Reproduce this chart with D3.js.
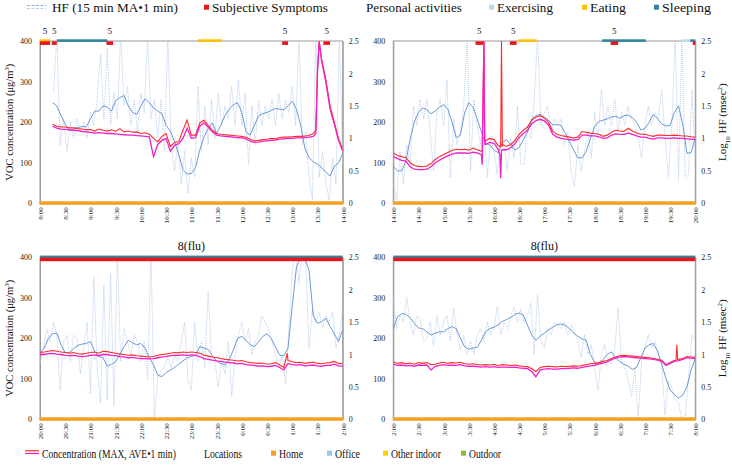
<!DOCTYPE html>
<html>
<head>
<meta charset="utf-8">
<script src="https://cdn.jsdelivr.net/npm/d3@7"></script>
<style>
body { margin: 0; background: #fff; }
svg, svg text { font-family: "Liberation Serif", "Times New Roman", "DejaVu Serif", serif; }
</style>
</head>
<body>
<svg id="chart" width="732" height="472"></svg>
<script>
// ---- data (minutes from panel start; conc every 5 min, raw HF every 4 min) ----
const startHours = [8, 14, 20, 2];
const ticksMin = d3.range(0, 361, 30);
const concTicks = [0, 100, 200, 300, 400];
const hfTicks = [0, 0.5, 1, 1.5, 2, 2.5];
const serif = '"Liberation Serif", "Times New Roman", "DejaVu Serif", serif';

const maxP1 = [null,null,null,195,190,188,188,186,186,184,183,181,
  182,178,183,180,178,181,177,184,176,178,175,176,
  172,174,170,160,152,165,172,140,150,152,180,205,
  168,168,198,205,192,180,172,170,169,168,167,166,
  165,163,158,154,155,157,158,160,159,162,163,163,
  164,165,165,166,167,172,330,355,305,240,200,160,
  132];
const aveP1 = [null,null,null,190,185,183,182,181,180,179,177,176,
  175,173,174,173,172,172,171,170,169,168,168,167,
  166,165,164,115,145,155,160,128,143,147,160,185,
  160,162,190,198,188,176,168,166,165,164,163,162,
  161,159,153,150,151,153,154,155,156,158,159,160,
  160,161,161,162,163,165,320,350,298,232,195,155,
  128];
const maxP2 = [124,118,115,113,100,93,91,90,92,98,108,115,
  120,125,130,133,132,133,131,136,132,128,155,160,
  157,142,140,140,145,155,170,180,188,205,212,216,
  210,200,178,170,167,165,163,161,163,177,175,173,
  172,170,165,168,175,180,178,177,185,178,173,170,
  170,167,165,168,168,167,167,168,167,166,166,164,
  163];
const aveP2 = [115,110,106,104,90,84,83,83,84,90,100,106,
  112,117,121,124,124,124,123,126,124,120,145,150,
  148,133,132,132,137,147,162,172,180,196,204,207,
  203,193,170,163,160,158,157,156,157,168,168,166,
  166,164,160,161,168,171,170,170,173,170,166,163,
  163,160,158,161,161,160,160,161,160,160,159,158,
  157];
const maxP3 = [165,166,168,170,168,166,165,163,165,162,161,163,
  165,166,163,168,167,165,163,161,160,158,159,157,
  156,155,154,155,158,160,161,163,165,164,166,165,
  166,165,163,158,156,154,152,150,148,147,146,144,
  145,142,140,139,138,139,136,137,140,134,128,145,
  142,140,141,138,140,141,138,137,139,140,143,138,
  137];
const aveP3 = [160,160,162,163,161,160,158,157,158,156,155,156,
  158,159,157,160,160,158,157,155,154,152,153,151,
  150,150,149,150,152,154,155,157,158,158,159,158,
  159,158,155,150,148,146,144,143,141,140,139,137,
  138,135,134,133,131,132,130,131,133,128,122,138,
  135,134,135,132,133,134,132,131,133,133,136,132,
  131];
const maxP4 = [142,138,140,137,139,136,140,138,140,135,136,139,
  141,138,140,139,141,137,136,137,135,134,135,134,
  136,133,135,134,133,134,132,131,130,125,118,128,
  130,131,130,129,131,130,131,132,131,133,135,137,
  138,140,143,145,150,154,157,158,157,156,155,154,
  153,152,150,148,146,135,140,145,148,150,155,154,
  153];
const aveP4 = [136,133,134,132,133,131,134,133,134,122,131,133,
  135,133,134,133,135,132,131,131,130,129,130,129,
  130,128,129,129,128,129,127,126,125,118,105,122,
  124,125,124,124,125,125,126,127,126,128,130,132,
  133,136,139,142,147,151,154,155,154,153,152,151,
  150,149,148,146,143,133,138,143,145,148,152,151,
  150];

// short spikes between the 5-minute samples [minute, value]
const maxSpikesP1 = [[328,180],[332,400]];
const aveSpikesP1 = [[328,172],[332,398]];
const maxSpikesP2 = [[106,130],[108,400],[109,150],[128,140],[129,400],[130.5,145]];
const aveSpikesP2 = [[106,95],[108,400],[109,145],[127,120],[128,62],[129,130]];
const maxSpikesP3 = [[294,163]];
const aveSpikesP3 = [];
const maxSpikesP4 = [[337,146],[338,184],[339,147]];
const aveSpikesP4 = [];

const hfMaP1 = [null,null,null,1.55,1.50,1.35,1.22,1.12,1.15,1.17,1.18,1.18,
  1.30,1.42,1.42,1.50,1.48,1.42,1.58,1.63,1.66,1.50,1.40,1.37,
  1.50,1.61,1.55,1.47,1.42,1.38,1.20,1.11,0.95,0.75,0.52,0.45,
  0.46,0.55,0.82,1.02,1.15,1.24,1.08,1.20,1.35,1.45,1.52,1.55,
  1.40,1.10,1.05,1.20,1.35,1.38,1.40,1.43,1.46,1.45,1.44,1.50,
  1.57,1.45,1.20,0.85,0.70,0.64,0.60,0.55,0.48,0.42,0.57,0.62,
  0.77];
const hfMaP2 = [0.57,0.50,0.50,0.65,0.98,1.25,1.40,1.47,1.44,1.38,1.42,1.48,
  1.52,1.45,1.25,1.01,1.05,1.39,1.55,1.48,1.30,1.10,0.92,0.90,
  0.82,0.78,0.93,0.98,0.90,0.82,0.86,0.98,1.10,1.30,1.35,1.37,
  1.33,1.28,1.21,1.21,1.20,1.08,0.95,0.82,0.70,0.70,0.80,1.00,
  1.18,1.26,1.28,1.30,1.33,1.34,1.31,1.35,1.36,1.32,1.25,1.13,
  1.15,1.25,1.37,1.30,1.22,1.19,1.20,1.40,1.50,1.22,0.77,0.78,
  1.01];
const hfMaP3 = [1.02,1.10,1.25,1.32,1.33,1.15,1.03,1.03,1.09,1.14,1.16,1.17,
  1.20,1.05,0.97,0.95,0.82,0.85,0.89,1.00,1.12,1.22,1.18,1.15,
  1.17,1.10,0.95,0.84,0.68,0.66,0.72,0.76,0.80,0.85,0.90,0.95,
  0.97,0.99,1.12,1.10,1.08,0.98,0.90,0.86,0.84,0.92,1.07,1.25,
  1.28,1.22,1.15,1.12,1.20,1.28,1.32,1.25,1.12,0.99,0.98,1.10,
  1.75,2.35,2.50,2.48,2.30,1.60,1.48,1.51,1.56,1.43,1.32,1.20,
  1.38];
const hfMaP4 = [1.40,1.58,1.63,1.62,1.57,1.48,1.41,1.40,1.35,1.30,1.33,1.35,
  1.35,1.40,1.43,1.40,1.25,1.12,1.08,1.10,1.11,1.22,1.35,1.40,
  1.42,1.46,1.51,1.54,1.57,1.62,1.64,1.61,1.45,1.30,1.22,1.28,
  1.33,1.38,1.42,1.46,1.47,1.45,1.40,1.33,1.28,1.24,1.22,1.00,
  0.88,0.86,0.92,1.00,1.04,0.95,0.89,0.85,0.82,0.77,0.80,0.95,
  1.10,1.15,1.17,1.05,0.85,0.63,0.45,0.38,0.33,0.37,0.50,0.76,
  0.94];

const hfRawP1 = [null,null,null,null,1.7,2.6,0.9,1.3,0.8,1.25,1.0,1.3,1.1,1.25,1.0,
  1.4,1.2,1.6,2.3,1.3,2.4,1.2,1.7,1.3,2.6,1.5,1.8,1.2,1.6,1.1,
  1.7,1.4,2.6,1.3,1.6,1.0,1.6,0.8,2.6,0.9,0.5,0.9,0.3,0.8,0.15,
  0.7,0.4,1.8,0.8,1.5,0.9,1.6,1.0,1.7,1.2,1.5,1.3,1.8,1.2,1.9,
  1.2,1.7,0.6,1.5,0.9,1.6,1.2,1.5,1.3,1.6,1.2,1.7,1.3,1.6,1.4,
  1.8,1.2,2.6,0.9,1.1,0.4,0.05,2.6,0.4,0.8,0.3,0.05,0.7,0.3,2.6,
  0.6];
const hfRawP2 = [0.3,0.05,0.8,0.3,0.9,0.6,1.5,1.2,1.6,1.3,1.6,1.1,0.5,1.4,1.6,
  1.2,1.9,0.4,1.3,0.9,1.1,1.5,2.6,0.5,1.6,1.2,0.9,1.3,0.4,1.0,
  0.8,0.45,1.1,0.9,0.5,1.0,0.7,1.5,0.6,0.6,1.2,1.0,1.6,2.6,1.2,
  1.4,1.5,1.1,1.3,1.2,1.3,0.9,1.1,0.5,0.26,0.9,0.5,0.8,1.1,0.7,
  1.4,1.0,1.75,1.2,1.5,1.2,1.6,1.1,1.4,1.2,1.5,1.3,1.2,1.0,0.7,
  1.2,1.5,1.2,1.4,1.3,1.75,1.0,0.4,1.2,2.6,0.35,2.6,0.4,0.45,1.75,
  0.7];
const hfRawP3 = [0.86,1.1,1.4,1.2,1.5,1.3,0.45,1.2,1.3,0.9,1.3,1.25,0.7,1.1,1.5,
  0.4,2.2,0.8,0.25,2.07,0.3,2.25,0.2,2.6,0.9,1.4,1.2,1.0,1.3,1.2,
  0.9,1.2,0.6,2.6,0.0,0.65,0.75,0.8,0.95,0.8,1.0,0.9,1.2,1.5,0.6,
  0.45,1.5,0.9,1.2,0.8,1.97,1.0,0.9,0.5,0.9,0.7,1.2,0.35,1.0,1.3,
  1.5,1.2,1.4,1.0,1.2,1.3,1.6,1.5,1.4,1.2,1.0,0.8,1.0,0.55,1.4,
  2.3,2.6,2.1,2.6,2.4,1.1,1.7,1.5,1.65,1.4,1.6,1.5,1.65,1.1,1.3,
  1.7];
const hfRawP4 = [1.9,1.4,1.6,1.5,1.88,1.5,1.3,1.6,1.55,1.2,1.25,1.5,1.12,1.6,1.3,
  1.5,1.6,1.2,1.72,1.3,1.07,1.3,1.0,1.2,1.0,1.3,1.4,1.2,1.5,1.3,
  1.4,1.74,1.3,1.5,1.4,1.6,1.74,1.5,1.7,1.5,1.6,1.8,1.0,1.94,1.2,
  1.1,1.4,1.3,1.5,1.45,1.4,1.5,1.3,1.45,1.35,1.2,0.95,1.3,1.0,1.15,
  0.8,0.45,1.0,1.15,0.9,0.85,1.1,1.72,0.9,0.8,0.6,0.35,0.8,0.0,0.9,
  1.1,1.3,1.1,1.2,1.0,0.85,0.07,0.6,0.5,0.3,0.25,0.0,0.0,0.65,1.3,
  1.2];

// personal activities and symptoms [from, to] in minutes
const activitiesP1 = [{type: 'Eating', from: 0, to: 12}, {type: 'Sleeping', from: 20, to: 80}, {type: 'Eating', from: 188, to: 216}];
const activitiesP2 = [{type: 'Eating', from: 149, to: 171}, {type: 'Sleeping', from: 249, to: 301}, {type: 'Exercising', from: 343, to: 354}, {type: 'Sleeping', from: 354, to: 360}];
const activitiesP3 = [{type: 'Sleeping', from: 0, to: 360}];
const activitiesP4 = [{type: 'Sleeping', from: 0, to: 360}];
const symptomsP1 = [{from: 0, to: 12, label: '5'}, {from: 14, to: 20, label: '5'}, {from: 79, to: 87, label: '5'}, {from: 288, to: 295, label: '5'}, {from: 337, to: 345, label: '5'}];
const symptomsP2 = [{from: 98, to: 107, label: '5'}, {from: 139, to: 147, label: '5'}, {from: 259, to: 268, label: '5'}, {from: 357, to: 360, label: ''}];
const symptomsP3 = [{from: 0, to: 360, label: '8(flu)'}];
const symptomsP4 = [{from: 0, to: 360, label: '8(flu)'}];
const locations = ['Home', 'Home', 'Home', 'Home'];

const colors = {
    Exercising: '#b7dde8', Eating: '#ffc000', Sleeping: '#31859c', symptom: '#e8161c',
    Home: '#f5a023', Office: '#9dc3e6', 'Other indoor': '#ffd200', Outdoor: '#8cbb3a',
    max: '#ff2a2a', ave: '#f020c8', hfMa: '#5b8dd0', hfRaw: '#b9cdea'
};

// legend entries: label, colour key (or null), x of text, text width
const topLegend = [
    {label: 'HF (15 min MA•1 min)', key: null, x: 52, w: 126},
    {label: 'Subjective Symptoms', key: 'symptom', x: 212, w: 116},
    {label: 'Personal activities', key: null, x: 366, w: 96},
    {label: 'Exercising', key: 'Exercising', x: 497, w: 56},
    {label: 'Eating', key: 'Eating', x: 590, w: 36},
    {label: 'Sleeping', key: 'Sleeping', x: 662, w: 49}
];
const bottomLegend = [
    {label: 'Concentration (MAX, AVE•1 min)', key: null, x: 42, w: 134},
    {label: 'Locations', key: null, x: 204, w: 38},
    {label: 'Home', key: 'Home', x: 279, w: 24},
    {label: 'Office', key: 'Office', x: 335, w: 25},
    {label: 'Other indoor', key: 'Other indoor', x: 391, w: 50},
    {label: 'Outdoor', key: 'Outdoor', x: 469, w: 32}
];

function toPoints(values, step, extra) {
    const pts = values.map((v, i) => [i * step, v]).filter(p => p[1] != null).concat(extra || []);
    pts.sort((a, b) => a[0] - b[0]);
    return pts;
}

const panels = [
    {x0: 40, x1: 342.7, y0: 41, y1: 203.3, max: maxP1, ave: aveP1, maxS: maxSpikesP1, aveS: aveSpikesP1, ma: hfMaP1, raw: hfRawP1, act: activitiesP1, sym: symptomsP1, leftTitle: true},
    {x0: 393.3, x1: 695.3, y0: 41, y1: 203.3, max: maxP2, ave: aveP2, maxS: maxSpikesP2, aveS: aveSpikesP2, ma: hfMaP2, raw: hfRawP2, act: activitiesP2, sym: symptomsP2, rightTitle: true},
    {x0: 40, x1: 342.7, y0: 257.3, y1: 419.3, max: maxP3, ave: aveP3, maxS: maxSpikesP3, aveS: aveSpikesP3, ma: hfMaP3, raw: hfRawP3, act: activitiesP3, sym: symptomsP3, leftTitle: true},
    {x0: 393.3, x1: 695.3, y0: 257.3, y1: 419.3, max: maxP4, ave: aveP4, maxS: maxSpikesP4, aveS: aveSpikesP4, ma: hfMaP4, raw: hfRawP4, act: activitiesP4, sym: symptomsP4, rightTitle: true}
];

const svg = d3.select('#chart').attr('font-family', serif);
const defs = svg.append('defs');

panels.forEach((p, i) => {
    const x = d3.scaleLinear().domain([0, 360]).range([p.x0, p.x1]);
    const yC = d3.scaleLinear().domain([0, 400]).range([p.y1, p.y0]);
    const yH = d3.scaleLinear().domain([0, 2.5]).range([p.y1, p.y0]);
    const g = svg.append('g').attr('font-family', serif);

    defs.append('clipPath').attr('id', 'clip' + i)
        .append('rect').attr('x', p.x0).attr('y', p.y0).attr('width', p.x1 - p.x0).attr('height', p.y1 - p.y0);

    // frame
    g.append('rect').attr('x', p.x0).attr('y', p.y0).attr('width', p.x1 - p.x0).attr('height', p.y1 - p.y0)
        .attr('fill', 'none').attr('stroke', '#9a9a9a').attr('stroke-width', 1);

    // axes
    const left = g.append('g').attr('transform', `translate(${p.x0},0)`)
        .call(d3.axisLeft(yC).tickValues(concTicks).tickSize(0).tickPadding(8));
    const right = g.append('g').attr('transform', `translate(${p.x1},0)`)
        .call(d3.axisRight(yH).tickValues(hfTicks).tickSize(0).tickPadding(6).tickFormat(d => String(d)));
    const bottom = g.append('g').attr('transform', `translate(0,${p.y1})`)
        .call(d3.axisBottom(x).tickValues(ticksMin).tickSize(0)
            .tickFormat(m => ((startHours[i] + Math.floor(m / 60)) % 24) + ':' + d3.format('02')(m % 60)));
    bottom.selectAll('text')
        .attr('transform', 'rotate(-90)').attr('x', -4).attr('y', 0).attr('dy', '0.35em')
        .style('text-anchor', 'end').attr('font-size', 7);
    [left, right, bottom].forEach(a => {
        a.attr('font-family', serif);
        a.select('.domain').attr('stroke', '#9a9a9a');
        a.selectAll('text').attr('fill', '#222');
    });
    left.attr('font-size', 8);
    right.attr('font-size', 8);
    bottom.select('.domain').remove();

    // lines
    const plot = g.append('g').attr('clip-path', `url(#clip${i})`);
    const lineH = d3.line().x(d => x(d[0])).y(d => yH(d[1]));
    const lineC = d3.line().x(d => x(d[0])).y(d => yC(d[1]));
    plot.append('path').datum(toPoints(p.raw, 4)).attr('d', lineH)
        .attr('fill', 'none').attr('stroke', colors.hfRaw).attr('stroke-width', 1).attr('stroke-dasharray', '1,1');
    plot.append('path').datum(toPoints(p.ma, 5)).attr('d', lineH)
        .attr('fill', 'none').attr('stroke', colors.hfMa).attr('stroke-width', 0.9);
    plot.append('path').datum(toPoints(p.max, 5, p.maxS)).attr('d', lineC)
        .attr('fill', 'none').attr('stroke', colors.max).attr('stroke-width', 1.1);
    plot.append('path').datum(toPoints(p.ave, 5, p.aveS)).attr('d', lineC)
        .attr('fill', 'none').attr('stroke', colors.ave).attr('stroke-width', 1.3);

    // location bar
    g.append('rect').attr('x', p.x0 - 0.5).attr('y', p.y1 - 2).attr('width', p.x1 - p.x0 + 1).attr('height', 3.5)
        .attr('fill', colors[locations[i]]);

    // activities and symptoms
    g.selectAll('rect.act').data(p.act).enter().append('rect').attr('class', 'act')
        .attr('x', d => x(d.from)).attr('width', d => x(d.to) - x(d.from))
        .attr('y', p.y0 - 1.7).attr('height', 2.6).attr('fill', d => colors[d.type]);
    g.selectAll('rect.sym').data(p.sym).enter().append('rect').attr('class', 'sym')
        .attr('x', d => x(d.from)).attr('width', d => x(d.to) - x(d.from))
        .attr('y', p.y0 + 0.3).attr('height', 3.6).attr('fill', colors.symptom);
    g.selectAll('text.sym').data(p.sym).enter().append('text').attr('class', 'sym')
        .attr('x', d => x((d.from + d.to) / 2)).attr('y', p.y0 - 7)
        .attr('text-anchor', 'middle').attr('font-size', d => d.label.length > 1 ? 12 : 9)
        .attr('fill', '#111').text(d => d.label);

    // axis titles
    if (p.leftTitle) {
        const t = svg.append('text').attr('transform', `translate(13,${(p.y0 + p.y1) / 2}) rotate(-90)`)
            .attr('text-anchor', 'middle').attr('font-family', serif).attr('font-size', 10.5).attr('fill', '#111');
        t.append('tspan').text('VOC concentration (μg/m');
        t.append('tspan').attr('baseline-shift', 'super').attr('font-size', 7).text('3');
        t.append('tspan').text(')');
    }
    if (p.rightTitle) {
        const t = svg.append('text').attr('transform', `translate(726,${(p.y0 + p.y1) / 2}) rotate(-90)`)
            .attr('text-anchor', 'middle').attr('font-family', serif).attr('font-size', 11).attr('fill', '#111');
        t.append('tspan').text('Log');
        t.append('tspan').attr('baseline-shift', 'sub').attr('font-size', 7).text('10');
        t.append('tspan').text(' HF (msec');
        t.append('tspan').attr('baseline-shift', 'super').attr('font-size', 7).text('2');
        t.append('tspan').text(')');
    }
});

// ---- legends ----
const leg = svg.append('g').attr('font-family', serif).attr('fill', '#111');
function drawLegend(items, baseline, size) {
    items.forEach(d => {
        if (d.key) {
            leg.append('rect').attr('x', d.x - 8).attr('y', baseline - 7).attr('width', 5).attr('height', 5)
                .attr('fill', colors[d.key]);
        }
        // squeeze the label horizontally to the width it has in the figure
        const t = leg.append('text').attr('font-size', size).text(d.label);
        const len = t.node().getComputedTextLength() || d.w;
        t.attr('transform', `translate(${d.x},${baseline}) scale(${d.w / len},1)`);
    });
}
drawLegend(topLegend, 11.7, 13);
drawLegend(bottomLegend, 457.7, 13.5);

// line keys
leg.append('line').attr('x1', 27).attr('x2', 46).attr('y1', 5.5).attr('y2', 5.5)
    .attr('stroke', colors.hfMa).attr('stroke-width', 1).attr('stroke-dasharray', '3,1.5').attr('opacity', 0.7);
leg.append('line').attr('x1', 27).attr('x2', 46).attr('y1', 8.5).attr('y2', 8.5)
    .attr('stroke', colors.hfRaw).attr('stroke-width', 1).attr('stroke-dasharray', '3,1.5');
leg.append('line').attr('x1', 25).attr('x2', 39).attr('y1', 450.8).attr('y2', 450.8).attr('stroke', colors.max).attr('stroke-width', 1.2);
leg.append('line').attr('x1', 25).attr('x2', 39).attr('y1', 453.5).attr('y2', 453.5).attr('stroke', colors.ave).attr('stroke-width', 1.2);
</script>
</body>
</html>
